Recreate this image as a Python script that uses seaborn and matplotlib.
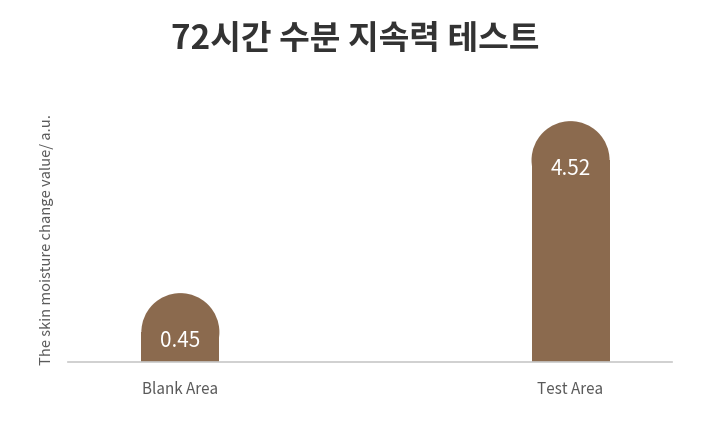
import matplotlib
matplotlib.use("Agg")
import matplotlib.pyplot as plt
import seaborn as sns
import pandas as pd
from matplotlib.patches import Ellipse
from matplotlib import font_manager

categories = ["Blank Area", "Test Area"]
values = [0.45, 4.52]
title = "72시간 수분 지속력 테스트"
ylabel = "The skin moisture change value/ a.u."

sns.set_theme(style="white")
plt.rcParams['font.family'] = ['Noto Sans CJK KR', 'DejaVu Sans']

names = {f.name for f in font_manager.fontManager.ttflist}
narrow = 'Liberation Sans Narrow' in names
small_family = ['Liberation Sans Narrow', 'Noto Sans CJK KR'] if narrow else ['Noto Sans CJK KR']
tick_size = 13.5 if narrow else 11
ylab_size = 12.9 if narrow else 10.6

BAR = "#8B6A4E"
df = pd.DataFrame({"area": categories, "value": values})

fig = plt.figure(figsize=(7.11, 4.25), dpi=100)
ax = fig.add_axes([68/711, 63/425, 604/711, 262/425])
sns.barplot(data=df, x="area", y="value", color=BAR, width=0.2, ax=ax,
            saturation=1, errorbar=None)

ymin, ymax = -1.18, 5.02
ax.set_ylim(ymin, ymax)
ax.set_xlim(-0.288, 1.26)

fig.canvas.draw()
bbox = ax.get_window_extent()
px_per_y = bbox.height / (ymax - ymin)
px_per_x = bbox.width / (1.26 + 0.288)
for p, v in zip(ax.patches, values):
    w = p.get_width()
    r_px = w * px_per_x / 2
    r_y = r_px / px_per_y
    p.set_y(ymin)
    p.set_height(v - r_y - ymin)
    p.set_edgecolor("none")
    cx = p.get_x() + w / 2
    ax.add_patch(Ellipse((cx, v - r_y), w, 2 * r_y, facecolor=BAR, edgecolor="none"))
    ax.text(cx, v - 48 / px_per_y, f"{v:.2f}", ha="center", va="center",
            color="white", fontsize=15)

for s in ["top", "right", "left"]:
    ax.spines[s].set_visible(False)
ax.spines["bottom"].set_color("#c8c8c8")
ax.spines["bottom"].set_linewidth(1.2)
ax.set_yticks([])
ax.set_xlabel("")
ax.set_ylabel(ylabel, fontsize=ylab_size, color="#5a5a5a", family=small_family)
ax.yaxis.set_label_coords(-14/604, 0.466)
ax.tick_params(axis="x", length=0, pad=14, labelcolor="#5a5a5a")
for t in ax.get_xticklabels():
    t.set_fontfamily(small_family)
    t.set_fontsize(tick_size)

fig.text(0.5, 1 - 40/425, title, ha="center", va="center", fontsize=24,
         fontweight="bold", color="#333333")

fig.savefig("out.png", dpi=100)
